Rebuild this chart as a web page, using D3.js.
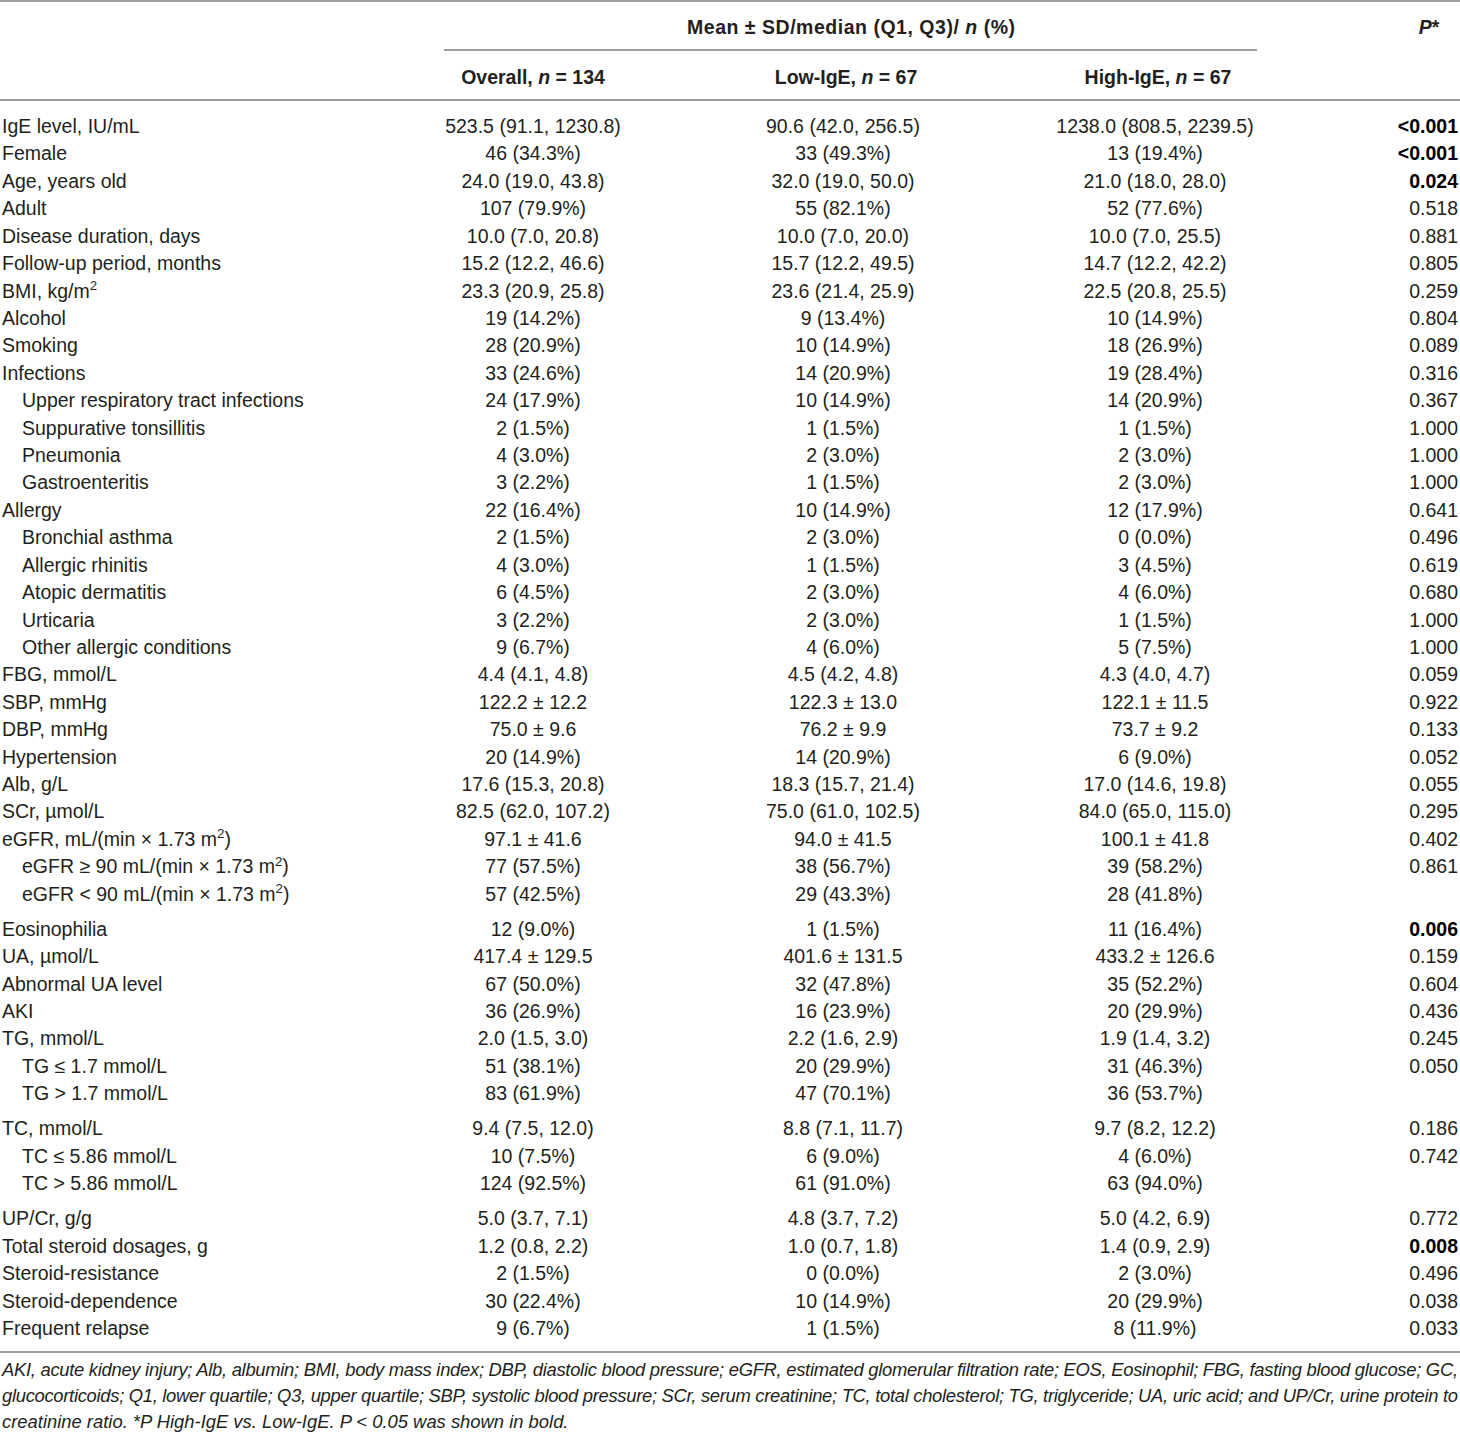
<!DOCTYPE html>
<html><head><meta charset="utf-8">
<script src="https://cdn.jsdelivr.net/npm/d3@7"></script>
<style>
body{margin:0;background:#fff;}
svg{display:block;font-family:"Liberation Sans",Arial,Helvetica,sans-serif;}
</style>
</head><body>
<svg id="chart" width="1460" height="1434"></svg>
<script>
// ---------------- DATA ----------------
const spanHeader = "Mean ± SD/median (Q1, Q3)/ <i>n</i> (%)";
const pHeader = "<i>P</i>*";
const groupNames = ["Overall", "Low-IgE", "High-IgE"];
const groupN = [134, 67, 67];

const rowLabels = [
  "IgE level, IU/mL","Female","Age, years old","Adult","Disease duration, days",
  "Follow-up period, months","BMI, kg/m<sup>2</sup>","Alcohol","Smoking","Infections",
  "Upper respiratory tract infections","Suppurative tonsillitis","Pneumonia","Gastroenteritis","Allergy",
  "Bronchial asthma","Allergic rhinitis","Atopic dermatitis","Urticaria","Other allergic conditions",
  "FBG, mmol/L","SBP, mmHg","DBP, mmHg","Hypertension","Alb, g/L",
  "SCr, µmol/L","eGFR, mL/(min × 1.73 m<sup>2</sup>)","eGFR ≥ 90 mL/(min × 1.73 m<sup>2</sup>)","eGFR < 90 mL/(min × 1.73 m<sup>2</sup>)","Eosinophilia",
  "UA, µmol/L","Abnormal UA level","AKI","TG, mmol/L","TG ≤ 1.7 mmol/L",
  "TG > 1.7 mmol/L","TC, mmol/L","TC ≤ 5.86 mmol/L","TC > 5.86 mmol/L","UP/Cr, g/g",
  "Total steroid dosages, g","Steroid-resistance","Steroid-dependence","Frequent relapse"
];
// 0 = main item, 1 = sub-item
const rowLevel = [
  0,0,0,0,0, 0,0,0,0,0,
  1,1,1,1,0, 1,1,1,1,1,
  0,0,0,0,0, 0,0,1,1,0,
  0,0,0,0,1, 1,0,1,1,0,
  0,0,0,0
];
// row indices that begin a new block (small gap before them)
const blockStarts = [29, 36, 39];

const overallValues = [
  "523.5 (91.1, 1230.8)","46 (34.3%)","24.0 (19.0, 43.8)","107 (79.9%)","10.0 (7.0, 20.8)",
  "15.2 (12.2, 46.6)","23.3 (20.9, 25.8)","19 (14.2%)","28 (20.9%)","33 (24.6%)",
  "24 (17.9%)","2 (1.5%)","4 (3.0%)","3 (2.2%)","22 (16.4%)",
  "2 (1.5%)","4 (3.0%)","6 (4.5%)","3 (2.2%)","9 (6.7%)",
  "4.4 (4.1, 4.8)","122.2 ± 12.2","75.0 ± 9.6","20 (14.9%)","17.6 (15.3, 20.8)",
  "82.5 (62.0, 107.2)","97.1 ± 41.6","77 (57.5%)","57 (42.5%)","12 (9.0%)",
  "417.4 ± 129.5","67 (50.0%)","36 (26.9%)","2.0 (1.5, 3.0)","51 (38.1%)",
  "83 (61.9%)","9.4 (7.5, 12.0)","10 (7.5%)","124 (92.5%)","5.0 (3.7, 7.1)",
  "1.2 (0.8, 2.2)","2 (1.5%)","30 (22.4%)","9 (6.7%)"
];
const lowIgEValues = [
  "90.6 (42.0, 256.5)","33 (49.3%)","32.0 (19.0, 50.0)","55 (82.1%)","10.0 (7.0, 20.0)",
  "15.7 (12.2, 49.5)","23.6 (21.4, 25.9)","9 (13.4%)","10 (14.9%)","14 (20.9%)",
  "10 (14.9%)","1 (1.5%)","2 (3.0%)","1 (1.5%)","10 (14.9%)",
  "2 (3.0%)","1 (1.5%)","2 (3.0%)","2 (3.0%)","4 (6.0%)",
  "4.5 (4.2, 4.8)","122.3 ± 13.0","76.2 ± 9.9","14 (20.9%)","18.3 (15.7, 21.4)",
  "75.0 (61.0, 102.5)","94.0 ± 41.5","38 (56.7%)","29 (43.3%)","1 (1.5%)",
  "401.6 ± 131.5","32 (47.8%)","16 (23.9%)","2.2 (1.6, 2.9)","20 (29.9%)",
  "47 (70.1%)","8.8 (7.1, 11.7)","6 (9.0%)","61 (91.0%)","4.8 (3.7, 7.2)",
  "1.0 (0.7, 1.8)","0 (0.0%)","10 (14.9%)","1 (1.5%)"
];
const highIgEValues = [
  "1238.0 (808.5, 2239.5)","13 (19.4%)","21.0 (18.0, 28.0)","52 (77.6%)","10.0 (7.0, 25.5)",
  "14.7 (12.2, 42.2)","22.5 (20.8, 25.5)","10 (14.9%)","18 (26.9%)","19 (28.4%)",
  "14 (20.9%)","1 (1.5%)","2 (3.0%)","2 (3.0%)","12 (17.9%)",
  "0 (0.0%)","3 (4.5%)","4 (6.0%)","1 (1.5%)","5 (7.5%)",
  "4.3 (4.0, 4.7)","122.1 ± 11.5","73.7 ± 9.2","6 (9.0%)","17.0 (14.6, 19.8)",
  "84.0 (65.0, 115.0)","100.1 ± 41.8","39 (58.2%)","28 (41.8%)","11 (16.4%)",
  "433.2 ± 126.6","35 (52.2%)","20 (29.9%)","1.9 (1.4, 3.2)","31 (46.3%)",
  "36 (53.7%)","9.7 (8.2, 12.2)","4 (6.0%)","63 (94.0%)","5.0 (4.2, 6.9)",
  "1.4 (0.9, 2.9)","2 (3.0%)","20 (29.9%)","8 (11.9%)"
];
const pValues = [
  "<0.001","<0.001","0.024","0.518","0.881","0.805","0.259","0.804","0.089","0.316",
  "0.367","1.000","1.000","1.000","0.641","0.496","0.619","0.680","1.000","1.000",
  "0.059","0.922","0.133","0.052","0.055","0.295","0.402","0.861","","0.006",
  "0.159","0.604","0.436","0.245","0.050","","0.186","0.742","","0.772",
  "0.008","0.496","0.038","0.033"
];
// rows whose P value is printed in bold in the source
const pBoldRows = [0, 1, 2, 29, 40];

const footnoteLines = [
  "AKI, acute kidney injury; Alb, albumin; BMI, body mass index; DBP, diastolic blood pressure; eGFR, estimated glomerular filtration rate; EOS, Eosinophil; FBG, fasting blood glucose; GC,",
  "glucocorticoids; Q1, lower quartile; Q3, upper quartile; SBP, systolic blood pressure; SCr, serum creatinine; TC, total cholesterol; TG, triglyceride; UA, uric acid; and UP/Cr, urine protein to",
  "creatinine ratio. *P High-IgE vs. Low-IgE. P < 0.05 was shown in bold."
];
const footnoteJustified = [true, true, false];

// ---------------- DRAW ----------------
const W = 1460, H = 1434;
const svg = d3.select("#chart");
const FS = 19.5;
const TXT = "#231f20";
const RULE = "#9d9d9d";

const cols = ["label", "overall", "low", "high", "p"];
const x = d3.scaleOrdinal().domain(cols).range([2, 533, 843, 1155, 1458]);
const indent = d3.scaleOrdinal().domain([0, 1]).range([0, 20]);

// slot position of each row (blocks add a fractional extra slot)
const gapFrac = 0.28;
const slots = rowLabels.map((_, i) => i + gapFrac * blockStarts.filter(b => b <= i).length);
const y = d3.scaleLinear()
  .domain([0, d3.max(slots)])
  .range([126, 1328]);

// rich text helper: supports <i>..</i>, <b>..</b>, <sup>..</sup>
function rich(sel, str, fs) {
  fs = fs || FS;
  const re = /<(i|b|sup)>(.*?)<\/\1>/g;
  let last = 0, m, parts = [];
  while ((m = re.exec(str)) !== null) {
    if (m.index > last) parts.push({t: str.slice(last, m.index)});
    parts.push({t: m[2], tag: m[1]});
    last = re.lastIndex;
  }
  if (last < str.length) parts.push({t: str.slice(last)});
  let shifted = false;
  parts.forEach(p => {
    const ts = sel.append("tspan").text(p.t);
    if (p.tag === "i") ts.attr("font-style", "italic");
    if (p.tag === "b") ts.attr("font-weight", "bold");
    if (p.tag === "sup") { ts.attr("font-size", fs * 0.68).attr("dy", -7.5); shifted = true; }
    else if (shifted) { ts.attr("dy", 7.5); shifted = false; }
  });
  return sel;
}

// rules
const rules = [
  {x1: 0, x2: W, y: 1},
  {x1: 444, x2: 1257, y: 50},
  {x1: 0, x2: W, y: 100},
  {x1: 0, x2: W, y: 1352}
];
svg.append("g").selectAll("line").data(rules).join("line")
  .attr("x1", d => d.x1).attr("x2", d => d.x2)
  .attr("y1", d => d.y).attr("y2", d => d.y)
  .attr("stroke", RULE).attr("stroke-width", 1.8);

// header
const head = svg.append("g").attr("font-size", FS).attr("fill", TXT).attr("font-weight", "bold");
rich(head.append("text").attr("x", 851).attr("y", 34).attr("text-anchor", "middle").attr("textLength", 328).attr("lengthAdjust", "spacing"), spanHeader);
rich(head.append("text").attr("x", 1429).attr("y", 34).attr("text-anchor", "middle"), pHeader);
head.selectAll("text.grp").data(groupNames).join("text").attr("class", "grp")
  .attr("x", (d, i) => x(cols[i + 1]) + (i === 0 ? 0 : 3))
  .attr("y", 84)
  .attr("text-anchor", "middle")
  .each(function(d, i) { rich(d3.select(this), d + ", <i>n</i> = " + groupN[i]); });

// body rows
const rows = rowLabels.map((lab, i) => ({
  i, lab, lvl: rowLevel[i],
  vals: [overallValues[i], lowIgEValues[i], highIgEValues[i]],
  p: pValues[i], bold: pBoldRows.includes(i)
}));

const body = svg.append("g").attr("font-size", FS).attr("fill", TXT);
const rg = body.selectAll("g.row").data(rows).join("g").attr("class", "row")
  .attr("transform", d => `translate(0,${y(slots[d.i]) + 7})`);

rg.append("text")
  .attr("x", d => x("label") + indent(d.lvl))
  .each(function(d) { rich(d3.select(this), d.lab); });

["overall", "low", "high"].forEach((c, k) => {
  rg.append("text")
    .attr("x", x(c))
    .attr("text-anchor", "middle")
    .text(d => d.vals[k]);
});

rg.append("text")
  .attr("x", x("p"))
  .attr("text-anchor", "end")
  .attr("font-weight", d => d.bold ? "bold" : "normal")
  .attr("fill", d => d.bold ? "#000" : TXT)
  .text(d => d.p);

// footnote
const foot = svg.append("g").attr("font-size", 18.4).attr("font-style", "italic").attr("fill", TXT);
const fy = d3.scaleLinear().domain([0, 2]).range([1376, 1428]);
foot.selectAll("text").data(footnoteLines).join("text")
  .attr("x", 2)
  .attr("y", (d, i) => fy(i))
  .each(function(d, i) {
    const t = d3.select(this).text(d);
    if (footnoteJustified[i]) t.attr("textLength", 1456).attr("lengthAdjust", "spacing");
  });
</script>
</body></html>
